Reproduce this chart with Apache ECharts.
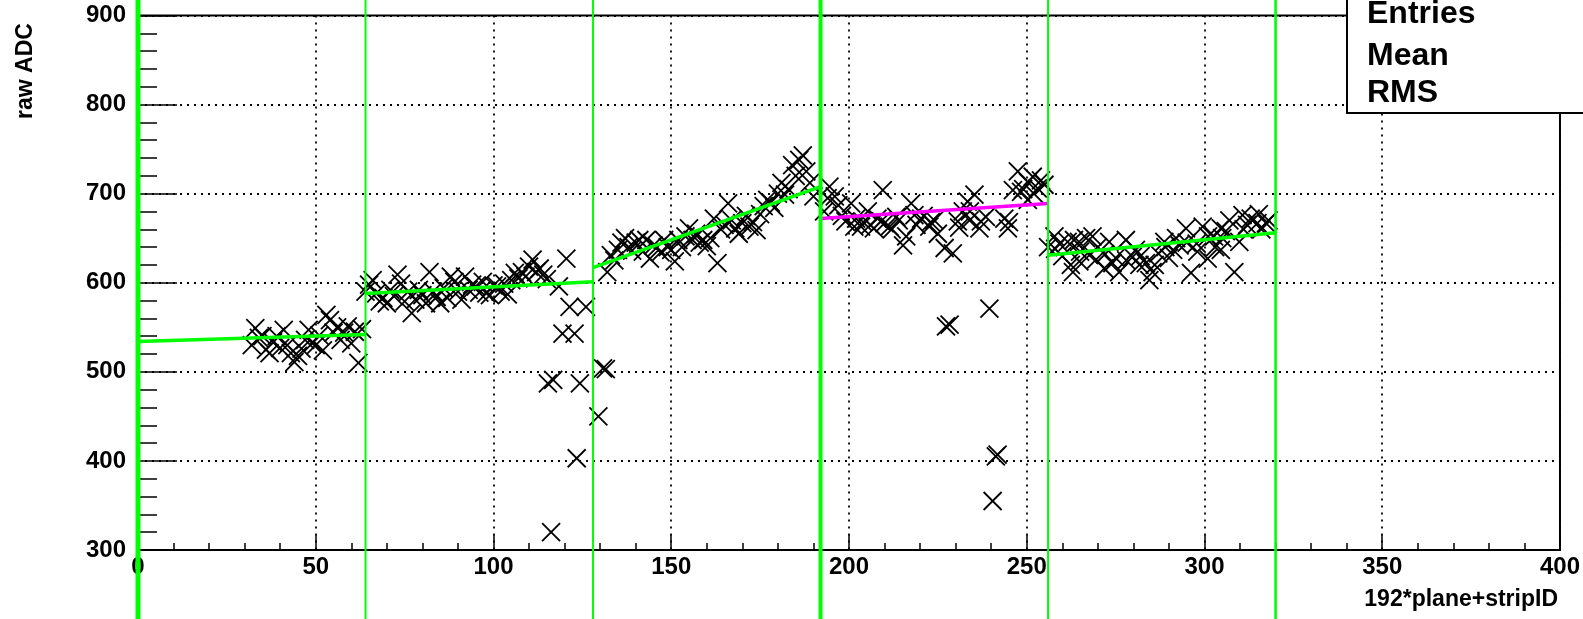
<!DOCTYPE html>
<html><head><meta charset="utf-8">
<script src="https://cdn.jsdelivr.net/npm/echarts@6/dist/echarts.min.js"></script>
<style>html,body{margin:0;padding:0;background:#fff;}#c{width:1583px;height:619px;}</style>
</head><body><div id="c"></div>
<script>
// ---- axis ranges / ticks ----
const xMin = 0, xMax = 400, xStep = 50;
const yMin = 300, yMax = 900, yStep = 100;

// ---- module boundaries (green vertical lines) ----
const boundaries = [0, 64, 128, 192, 256, 320];

// ---- linear fits per module ----
const fitStartX = [0, 64, 128, 192, 256];
const fitEndX   = [64, 128, 192, 256, 320];
const fitStartY = [534, 588, 617, 672, 631];
const fitEndY   = [542, 601, 708, 689, 656];

// ---- raw ADC per strip ----
const seg0X = [32,33,34,35,36,37,38,39,40,41,42,43,44,45,46,47,48,49,50,51,52,53,54,55,56,57,58,59,60,61,62,63];
const seg0Y = [530,549,538,540,525,521,533,540,527,547,530,521,511,518,526,536,547,532,530,541,524,564,558,544,550,536,544,551,532,545,510,548];

const seg1X = [64,65,66,67,68,69,70,71,72,73,74,75,76,77,78,79,80,81,82,83,84,85,86,87,88,89,90,91,92,93,94,95,96,97,98,99,100,101,102,103,104,105,106,107,108,109,110,111,112,113,114,115,
  115.3,116.2,116.8,118.4,119.4,120.5,121.4,122.8,123.4,124.3,126.0];
const seg1Y = [590,598,603,588,579,583,577,592,585,609,599,579,590,566,581,592,586,577,612,590,584,577,594,583,607,601,590,581,607,592,598,596,589,601,588,586,597,596,590,599,587,603,611,605,612,607,618,626,612,616,609,604,
  487,320,491,596,543,627,573,543,403,487,573];

const seg2X = [129.5,130.8,131.6,
  132,133,134,135,136,137,138,139,140,141,142,143,144,145,146,147,148,149,150,151,152,153,154,155,156,157,158,159,160,161,162,163,164,165,166,167,168,169,170,171,172,173,174,175,176,177,178,179,180,181,182,183,184,185,186,187,188,189,190];
const seg2Y = [450,504,503,
  612,631,625,637,645,650,640,636,645,648,635,648,627,642,640,634,648,640,637,624,648,640,652,661,648,655,645,648,641,650,672,622,660,665,689,670,661,655,667,675,663,668,659,677,686,693,690,684,700,712,699,705,732,720,738,743,725,712,697];

const seg3X = [193,194,194.5,196,197,198,199,200.6,201.5,202,203.4,204,205.3,206,207,208,209,209.5,210,211.4,212,213.3,214,215.2,216.1,217.5,218.4,219,220.3,221,222.6,223,224,225,226.9,229.2,230.6,231,232,233.4,233.9,234,235.3,236.7,237.1,238.5,243.7,244.7,245,246.1,247.5,248.4,249,250.3,250.3,251.7,252,253.1,254,255,
  227.3,228.3,239.5,240.4,241.3,241.8];
const seg3Y = [680,695,708,697,687,675,669,689,663,672,663,668,680,665,661,672,669,704,667,663,660,674,670,642,652,689,676,665,672,675,663,668,670,655,639,633,669,662,680,691,670,680,699,661,669,674,672,661,668,704,725,702,705,713,693,719,700,706,715,710,
  551,553,571,355,405,407];

const seg4X = [256,257.8,258,259.2,260,261.5,262.4,263,263.3,264.7,264.8,265,266.7,267.6,268.5,269.5,270,271.8,272,273.2,274.1,275,276,277.9,278,279.8,280.7,281.7,282,283.5,284.5,285.4,286,287,288.7,289,290,291.2,292,293,294.8,295,296.2,297.8,298,299.5,300.9,301,302.7,303,304.6,304.6,305,306,307,308.4,309.8,310.7,311,312,313,314.9,315.3,316,317.3,318];
const seg4Y = [640,652,638,644,630,646,620,612,648,646,624,635,650,631,652,626,640,616,632,646,622,628,612,648,625,629,637,620,630,622,603,612,620,633,646,640,628,637,650,642,661,645,611,644,635,663,627,652,652,640,661,637,650,658,670,612,646,676,660,665,672,667,677,660,667,670];

const statLabels = ['Entries', 'Mean', 'RMS'];
const xTitle = '192*plane+stripID';
const yTitle = 'raw ADC';

// ---- build ----
const allX = [].concat(seg0X, seg1X, seg2X, seg3X, seg4X);
const allY = [].concat(seg0Y, seg1Y, seg2Y, seg3Y, seg4Y);
const points = allX.map((x, i) => [x, allY[i]]);

const FONT = '"Liberation Sans", Arial, Helvetica, sans-serif';
const GREEN = '#00ff00', MAGENTA = '#ff00ff';

const fitSeries = fitStartX.map((x0, i) => ({
  type: 'line', symbol: 'none', silent: true, z: 5,
  data: [[x0, fitStartY[i]], [fitEndX[i], fitEndY[i]]],
  lineStyle: { color: i === 3 ? MAGENTA : GREEN, width: 3.5 }
}));

const chart = echarts.init(document.getElementById('c'), null, { renderer: 'canvas' });
chart.setOption({
  animation: false,
  backgroundColor: '#fff',
  grid: { left: 138, right: 22, top: 15.5, bottom: 69, show: true, borderColor: '#000', borderWidth: 2, backgroundColor: 'transparent' },
  xAxis: {
    type: 'value', min: xMin, max: xMax, interval: xStep,
    axisLine: { show: true, onZero: false, lineStyle: { color: '#000', width: 2 } },
    axisTick: { show: true, inside: true, length: 15, lineStyle: { color: '#000', width: 1.5 } },
    minorTick: { show: true, splitNumber: 5, length: 7, lineStyle: { color: '#000', width: 1.5 } },
    axisLabel: { color: '#000', fontFamily: FONT, fontWeight: 'bold', fontSize: 24, margin: 5 },
    splitLine: { show: true, lineStyle: { color: '#000', type: [2, 5], width: 1.8 } }
  },
  yAxis: {
    type: 'value', min: yMin, max: yMax, interval: yStep,
    axisLine: { show: true, onZero: false, lineStyle: { color: '#000', width: 2 } },
    axisTick: { show: true, inside: true, length: 39, lineStyle: { color: '#000', width: 1.5 } },
    minorTick: { show: true, splitNumber: 5, length: 19, lineStyle: { color: '#000', width: 1.5 } },
    axisLabel: { color: '#000', fontFamily: FONT, fontWeight: 'bold', fontSize: 24, margin: 12 },
    splitLine: { show: true, lineStyle: { color: '#000', type: [2, 5], width: 1.8 } }
  },
  series: [
    {
      type: 'custom', z: 3, silent: true,
      data: points,
      encode: { x: 0, y: 1 },
      renderItem: function (params, api) {
        const p = api.coord([api.value(0), api.value(1)]);
        const h = 9;
        return { type: 'group', children: [
          { type: 'line', shape: { x1: p[0] - h, y1: p[1] - h, x2: p[0] + h, y2: p[1] + h }, style: { stroke: '#000', lineWidth: 1.8 } },
          { type: 'line', shape: { x1: p[0] - h, y1: p[1] + h, x2: p[0] + h, y2: p[1] - h }, style: { stroke: '#000', lineWidth: 1.8 } }
        ] };
      }
    },
    ...fitSeries,
    {
      type: 'custom', z: 6, silent: true, clip: false,
      data: boundaries.map(b => [b, yMin]),
      encode: { x: 0, y: 1 },
      renderItem: function (params, api) {
        const v = api.value(0);
        const px = api.coord([v, yMin])[0];
        const w = (v % 192 === 0) ? (v === 0 ? 5 : 4) : (v === 320 ? 2.6 : 2);
        return { type: 'line', shape: { x1: px, y1: 0, x2: px, y2: api.getHeight() }, style: { stroke: GREEN, lineWidth: w } };
      }
    }
  ],
  graphic: [
    { type: 'rect', z: 100, shape: { x: 1347, y: -4, width: 260, height: 117 }, style: { fill: '#fff', stroke: '#000', lineWidth: 2 } },
    ...statLabels.map((t, i) => ({ type: 'text', z: 101, x: 1367, y: [14, 56, 93][i],
      style: { text: t, fill: '#000', fontFamily: FONT, fontWeight: 'bold', fontSize: 32, align: 'left', verticalAlign: 'middle' } })),
    { type: 'text', z: 101, x: 26, y: 71, rotation: Math.PI / 2,
      style: { text: yTitle, fill: '#000', fontFamily: FONT, fontWeight: 'bold', fontSize: 23, align: 'center', verticalAlign: 'middle' } },
    { type: 'text', z: 101, x: 1558, y: 600,
      style: { text: xTitle, fill: '#000', fontFamily: FONT, fontWeight: 'bold', fontSize: 23, align: 'right', verticalAlign: 'middle' } }
  ]
});
</script></body></html>
